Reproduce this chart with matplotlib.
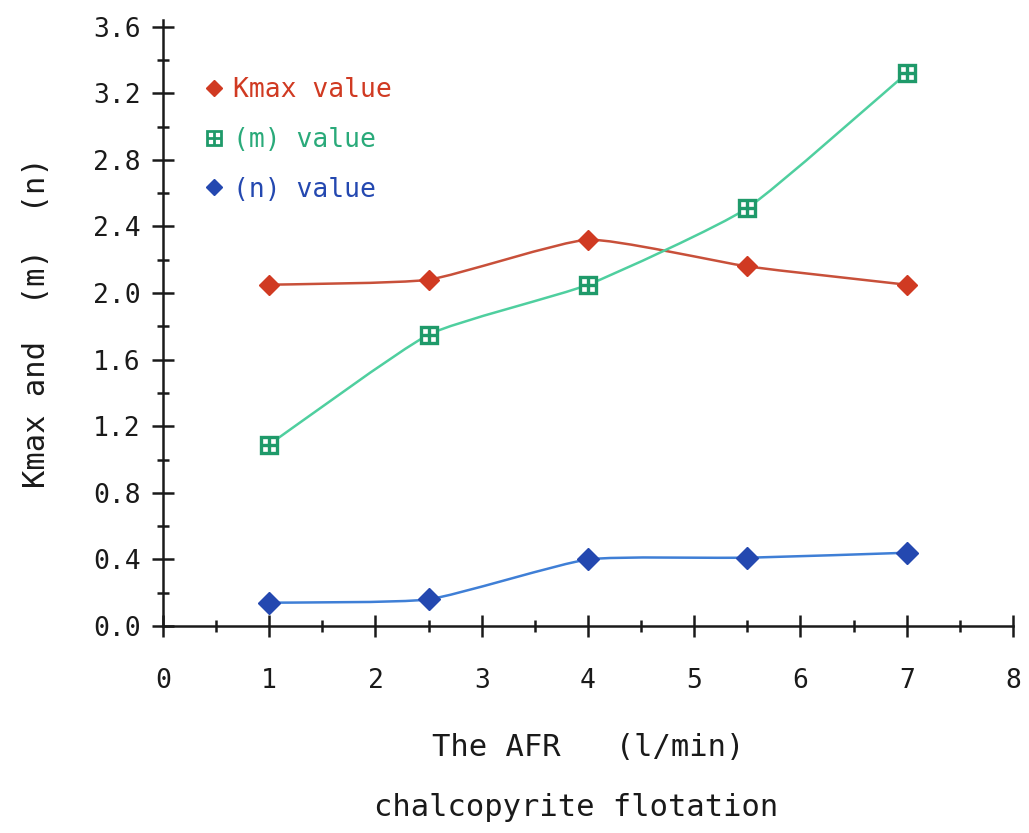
import numpy as np
import matplotlib
matplotlib.use("Agg")
from matplotlib import pyplot as plt
from matplotlib.path import Path
from matplotlib.patches import PathPatch
from matplotlib.lines import Line2D
from matplotlib.legend_handler import HandlerTuple
from matplotlib.ticker import MultipleLocator

afr = [1, 2.5, 4, 5.5, 7]
kmax = [2.05, 2.08, 2.32, 2.16, 2.05]
m_val = [1.09, 1.75, 2.05, 2.51, 3.32]
n_val = [0.14, 0.16, 0.40, 0.41, 0.44]

x_ticks = [0, 1, 2, 3, 4, 5, 6, 7, 8]
y_ticks = [0.0, 0.4, 0.8, 1.2, 1.6, 2.0, 2.4, 2.8, 3.2, 3.6]

plt.rcParams['font.family'] = ['DejaVu Sans Mono']


def smooth(ax, xs, ys, color, lw=1.8):
    # gently rounded curve through the points (bezier path)
    p = np.column_stack([xs, ys]).astype(float)
    verts = [p[0]]
    codes = [Path.MOVETO]
    for i in range(len(p) - 1):
        p0 = p[i - 1] if i > 0 else p[i]
        p3 = p[i + 2] if i + 2 < len(p) else p[i + 1]
        c1 = p[i] + (p[i + 1] - p0) / 12.0
        c2 = p[i + 1] - (p3 - p[i]) / 12.0
        verts += [c1, c2, p[i + 1]]
        codes += [Path.CURVE4] * 3
    ax.add_patch(PathPatch(Path(verts, codes), fill=False, edgecolor=color, lw=lw, zorder=2))


fig = plt.figure(figsize=(10.29, 8.33), dpi=100)
ax = fig.add_axes([0.1584, 0.2485, 0.826, 0.7275])

red = '#d03a22'
green_line = '#4fcf9f'
green = '#1f9a6a'
blue_line = '#3f7fd6'
blue = '#2448b0'
ink = '#1a1a1a'

smooth(ax, afr, kmax, '#c8503a')
smooth(ax, afr, m_val, green_line)
smooth(ax, afr, n_val, blue_line)

ax.plot(afr, kmax, ls='none', marker='D', ms=10, color=red, zorder=3)
ax.plot(afr, m_val, ls='none', marker='s', ms=12, mfc='white', mec=green, mew=2.4, zorder=3)
ax.plot(afr, m_val, ls='none', marker='+', ms=12, mec=green, mew=2.4, zorder=4)
ax.plot(afr, n_val, ls='none', marker='D', ms=11, color=blue, zorder=3)

ax.set_xlim(0, 8)
ax.set_ylim(0, 3.64)
ax.spines['top'].set_visible(False)
ax.spines['right'].set_visible(False)
for s in ['left', 'bottom']:
    ax.spines[s].set_linewidth(1.8)
    ax.spines[s].set_color(ink)

ax.set_xticks(x_ticks)
ax.set_yticks(y_ticks)
ax.set_yticklabels(['%.1f' % v for v in y_ticks])
ax.xaxis.set_minor_locator(MultipleLocator(0.5))
ax.yaxis.set_minor_locator(MultipleLocator(0.2))
ax.tick_params(axis='both', which='major', direction='inout', length=16, width=1.8,
               labelsize=19, colors=ink)
ax.tick_params(axis='both', which='minor', direction='inout', length=9, width=1.8, colors=ink)
ax.tick_params(axis='x', which='major', pad=22)
ax.tick_params(axis='y', which='major', pad=8)

ax.set_ylabel('Kmax and  (m)  (n)', fontsize=22, color=ink, labelpad=30)
ax.set_xlabel('The AFR   (l/min)', fontsize=22, color=ink, labelpad=28)
fig.text(0.56, 0.02, 'chalcopyrite flotation', fontsize=22, ha='center', color=ink)

handles = [
    Line2D([], [], ls='none', marker='D', ms=8, color=red),
    (Line2D([], [], ls='none', marker='s', ms=10, mfc='white', mec=green, mew=2),
     Line2D([], [], ls='none', marker='+', ms=10, mec=green, mew=2)),
    Line2D([], [], ls='none', marker='D', ms=8, color=blue),
]
leg = ax.legend(handles, ['Kmax value', '(m) value', '(n) value'],
                handler_map={tuple: HandlerTuple(ndivide=1, pad=0)},
                loc='upper left', bbox_to_anchor=(0.02, 0.945), frameon=False,
                fontsize=19, handlelength=0.8, handletextpad=0.3, labelspacing=0.9)
for txt, c in zip(leg.get_texts(), [red, '#2aaa7a', blue]):
    txt.set_color(c)

fig.savefig('out.png', dpi=100)
